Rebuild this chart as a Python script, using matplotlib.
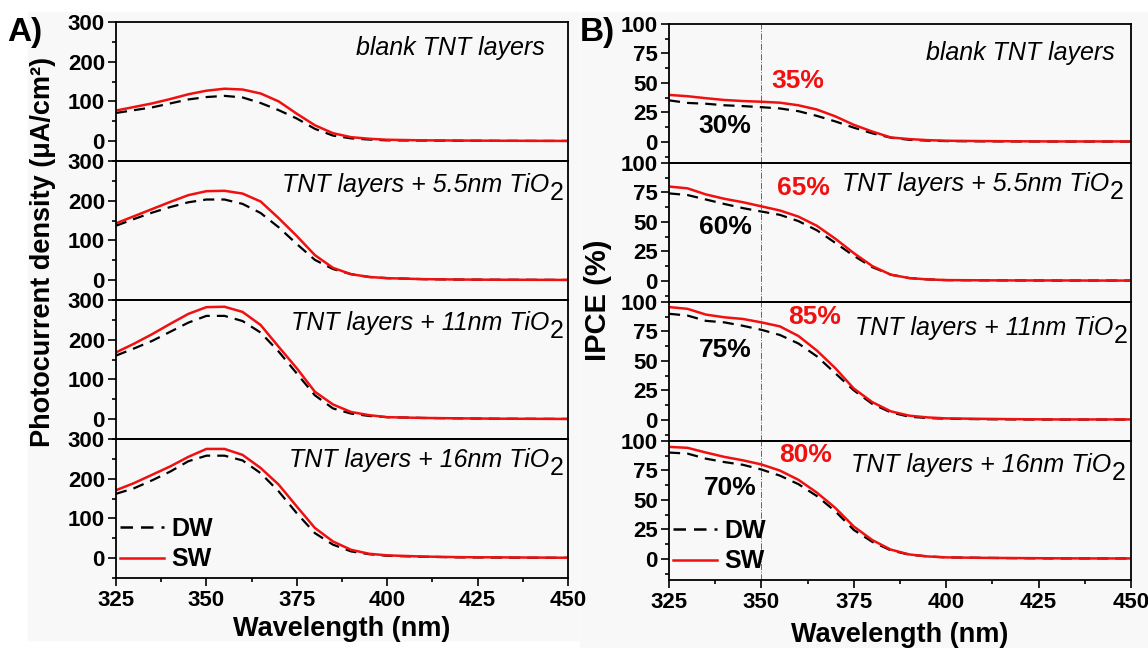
import matplotlib
matplotlib.use("Agg")
import matplotlib.pyplot as plt
from matplotlib.patches import Rectangle
from matplotlib.lines import Line2D
from matplotlib.ticker import MultipleLocator

plt.rcParams['font.family'] = ['Liberation Sans', 'DejaVu Sans']

# ---------------- data ----------------
wavelength = [325, 330, 335, 340, 345, 350, 355, 360, 365, 370, 375, 380,
              385, 390, 395, 400, 410, 420, 430, 440, 450]

panel_titles = ["blank TNT layers", "TNT layers + 5.5nm TiO", "TNT layers + 11nm TiO",
                "TNT layers + 16nm TiO"]
panel_subs = ["", "2", "2", "2"]

# Photocurrent density (uA/cm2)
jph_sw = [
    [77, 86, 95, 106, 118, 127, 132, 130, 120, 100, 69, 40, 20, 10, 6, 3.5, 2, 1.5, 1, 0.8, 0.5],
    [143, 161, 179, 197, 214, 224, 225, 218, 198, 156, 111, 63, 31, 15, 8, 5, 2.5, 1.5, 1, 0.8, 0.5],
    [168, 190, 214, 240, 265, 282, 283, 270, 237, 182, 128, 69, 37, 18, 10, 5, 3, 2, 1.2, 0.8, 0.5],
    [171, 189, 210, 231, 255, 275, 275, 260, 227, 185, 130, 76, 42, 21, 11, 7, 4, 2.5, 2, 1.5, 1],
]
jph_dw = [
    [71, 78, 85, 95, 105, 111, 114, 110, 96, 78, 57, 31, 14, 7, 4, 2, 1.5, 1, 0.8, 0.5, 0.5],
    [137, 154, 170, 184, 196, 203, 203, 192, 169, 133, 91, 51, 28, 15, 8, 5, 2.5, 1.5, 1, 0.8, 0.5],
    [160, 178, 197, 220, 243, 260, 260, 247, 218, 170, 115, 60, 27, 14, 8, 5, 3, 2, 1, 0.8, 0.5],
    [162, 176, 196, 218, 244, 258, 258, 246, 214, 168, 113, 63, 34, 17, 10, 6, 3.5, 2, 1.5, 1, 0.8],
]

# IPCE (%)
ipce_sw = [
    [39.8, 38.7, 37, 35.5, 34.6, 34, 33.2, 31, 27.4, 21.6, 14.4, 8.7, 3.7, 2.3, 1.4, 0.9, 0.6, 0.4, 0.3, 0.3, 0.3],
    [80, 78.5, 73.3, 69.6, 66.7, 63.2, 59.7, 54.5, 46.7, 35.7, 23.5, 12.5, 5.2, 2.3, 1.2, 0.6, 0.4, 0.3, 0.3, 0.2, 0.2],
    [95.7, 94.2, 89.3, 87, 85.6, 82.7, 79.3, 71.2, 58.8, 43.8, 26.5, 15, 7.2, 3.5, 2, 1.2, 0.8, 0.5, 0.3, 0.3, 0.3],
    [95, 94.2, 90.2, 86.5, 83.6, 80.1, 74.9, 67.1, 56.2, 43.2, 27.4, 15.9, 7.8, 3.7, 2, 1.2, 0.8, 0.6, 0.4, 0.3, 0.3],
]
ipce_dw = [
    [35.2, 33, 32.3, 31, 30.3, 29.4, 28.3, 26, 22, 17.3, 12, 7.2, 3.5, 1.7, 1, 0.6, 0.4, 0.3, 0.2, 0.2, 0.2],
    [74.2, 72.8, 69, 65.2, 61.7, 58.8, 56, 50.7, 42.9, 32.2, 21.2, 11.6, 5.2, 2.3, 1.2, 0.6, 0.4, 0.3, 0.2, 0.2, 0.2],
    [90, 88.5, 84, 82.7, 79.8, 76.4, 72, 64.8, 53.9, 39.5, 25, 13.5, 6.3, 2.6, 1.5, 0.9, 0.5, 0.3, 0.2, 0.2, 0.2],
    [90.2, 89.3, 85, 82.1, 79.8, 75.8, 70.6, 63.4, 53.3, 40.3, 24.5, 14.4, 7.2, 3.5, 2, 1.2, 0.8, 0.5, 0.3, 0.3, 0.3],
]

sw_pct_labels = ["35%", "65%", "85%", "80%"]
dw_pct_labels = ["30%", "60%", "75%", "70%"]

# ---------------- layout ----------------
W, H = 1148, 648
fig = plt.figure(figsize=(W / 100, H / 100), dpi=100, facecolor='white')

bg = '#f8f8f8'
fig.patches.append(Rectangle((28 / W, 1 - 640 / H), 550 / W, 628 / H,
                             transform=fig.transFigure, color=bg, zorder=-10))
fig.patches.append(Rectangle((580 / W, 0), 568 / W, 636 / H,
                             transform=fig.transFigure, color=bg, zorder=-10))

RED = '#f01010'
TICK_FS = 16
ITAL_FS = 18
PCT_FS = 19
LABEL_FS = 19.5


def make_axes(left, width, top, ph, n):
    axs = []
    for i in range(n):
        t = top + ph * i
        ax = fig.add_axes([left / W, 1 - (t + ph) / H, width / W, ph / H])
        ax.set_facecolor('none')
        axs.append(ax)
    return axs


axA = make_axes(116, 452, 22, 139, 4)
axB = make_axes(669, 462, 24, 139, 4)


def style(ax, bottom, ylim, major, minor):
    ax.set_xlim(325, 450)
    ax.set_ylim(*ylim)
    ax.yaxis.set_major_locator(MultipleLocator(major))
    ax.yaxis.set_minor_locator(MultipleLocator(minor))
    ax.xaxis.set_major_locator(MultipleLocator(25))
    ax.xaxis.set_minor_locator(MultipleLocator(12.5))
    for s in ax.spines.values():
        s.set_linewidth(1.3)
    ax.tick_params(axis='y', which='both', direction='out', left=True, right=False,
                   labelsize=TICK_FS, width=1.2, pad=2)
    ax.tick_params(axis='y', which='major', length=6)
    ax.tick_params(axis='y', which='minor', length=3)
    ax.tick_params(axis='x', which='both', direction='out', top=False,
                   bottom=bottom, labelbottom=bottom, labelsize=TICK_FS, width=1.2, pad=3)
    ax.tick_params(axis='x', which='major', length=6)
    ax.tick_params(axis='x', which='minor', length=3)
    for lab in ax.get_yticklabels() + ax.get_xticklabels():
        lab.set_fontweight('bold')


def panel_text(ax, right_px_from_axright, base_px_from_top, ax_w, ax_h, main, sub):
    sub_w = 14 if sub else 0
    x = 1 - (right_px_from_axright + sub_w) / ax_w
    y = 1 - base_px_from_top / ax_h
    t = ax.text(x, y, main, transform=ax.transAxes, ha='right', va='baseline',
                fontsize=ITAL_FS, fontstyle='italic')
    if sub:
        ax.annotate(sub, xy=(1, 0), xycoords=t, xytext=(0.5, -2.5),
                    textcoords='offset points', ha='left', va='baseline',
                    fontsize=ITAL_FS)


# Panel A
a_right = [23, 5, 5, 5]
a_base = [33, 31, 30, 28]
for i, ax in enumerate(axA):
    ax.plot(wavelength, jph_dw[i], color='black', lw=1.6, ls=(0, (5, 3.2)), label='DW')
    ax.plot(wavelength, jph_sw[i], color=RED, lw=1.8, label='SW')
    style(ax, i == 3, (-50, 300), 100, 50)
    panel_text(ax, a_right[i], a_base[i], 452, 139, panel_titles[i], panel_subs[i])

# Panel B
b_right = [16, 8, 4, 6]
b_base = [36, 28, 33, 31]
sw_pos = [(359.8, 45.6), (361.5, 72.8), (364.5, 81.4), (361.9, 82.4)]
dw_pos = [(340.2, 7.5), (340.2, 39.5), (340.3, 53.2), (341.5, 54.1)]
for i, ax in enumerate(axB):
    ax.axvline(350, color='#666666', lw=0.7, ls='-.', zorder=1)
    ax.plot(wavelength, ipce_dw[i], color='black', lw=1.6, ls=(0, (5, 3.2)), label='DW')
    ax.plot(wavelength, ipce_sw[i], color=RED, lw=1.8, label='SW')
    style(ax, i == 3, (-18, 100), 25, 12.5)
    panel_text(ax, b_right[i], b_base[i], 462, 139, panel_titles[i], panel_subs[i])
    ax.text(sw_pos[i][0], sw_pos[i][1], sw_pct_labels[i], color=RED, fontsize=PCT_FS,
            fontweight='bold', ha='center', va='baseline')
    ax.text(dw_pos[i][0], dw_pos[i][1], dw_pct_labels[i], color='black', fontsize=PCT_FS,
            fontweight='bold', ha='center', va='baseline')

# Legends
for ax in (axA[3], axB[3]):
    handles = [Line2D([], [], color='black', lw=1.8, ls=(0, (5, 3.2))),
               Line2D([], [], color=RED, lw=1.8)]
    ax.legend(handles, ['DW', 'SW'], loc='lower left', bbox_to_anchor=(0.0, 0.02),
              frameon=False, prop={'weight': 'bold', 'size': 18}, handlelength=1.75,
              handletextpad=0.3, labelspacing=0.25, borderaxespad=0, borderpad=0.15)

# Axis labels
axA[3].set_xlabel('Wavelength (nm)', fontsize=LABEL_FS, fontweight='bold', labelpad=3)
axB[3].set_xlabel('Wavelength (nm)', fontsize=LABEL_FS, fontweight='bold', labelpad=6)

fig.text(43 / W, 1 - 252 / H, 'Photocurrent density (μA/cm²)', rotation=90,
         ha='center', va='center', fontsize=19.5, fontweight='bold')
fig.text(598 / W, 1 - 300 / H, 'IPCE (%)', rotation=90,
         ha='center', va='center', fontsize=21, fontweight='bold')

# Panel letters
fig.text(7 / W, 1 - 32 / H, 'A)', fontsize=24, fontweight='bold', ha='left', va='center')
fig.text(580 / W, 1 - 32 / H, 'B)', fontsize=24, fontweight='bold', ha='left', va='center')

fig.savefig('out.png', dpi=100, facecolor=fig.get_facecolor())
